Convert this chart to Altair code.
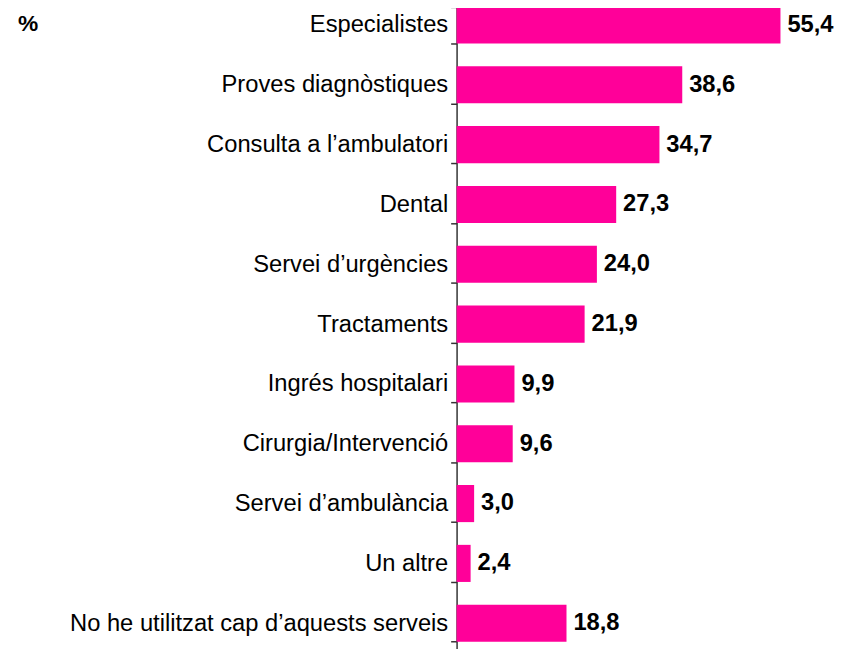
import altair as alt
import pandas as pd

categories = [
    "Especialistes",
    "Proves diagnòstiques",
    "Consulta a l’ambulatori",
    "Dental",
    "Servei d’urgències",
    "Tractaments",
    "Ingrés hospitalari",
    "Cirurgia/Intervenció",
    "Servei d’ambulància",
    "Un altre",
    "No he utilitzat cap d’aquests serveis",
]
values = [55.4, 38.6, 34.7, 27.3, 24.0, 21.9, 9.9, 9.6, 3.0, 2.4, 18.8]

df = pd.DataFrame({"cat": categories, "v": values})

FONT = "Liberation Sans"
PINK = "#FF0099"

y_enc = alt.Y(
    "cat:N",
    sort=categories,
    scale=alt.Scale(paddingInner=0.38, paddingOuter=0.19),
    axis=alt.Axis(
        title=None,
        labelFont=FONT,
        labelFontSize=24,
        labelColor="black",
        labelPadding=3,
        labelLimit=600,
        tickBand="extent",
        tickSize=6,
        tickColor="#333333",
        tickWidth=1.5,
        domainColor="#333333",
        domainWidth=1.5,
        grid=False,
    ),
)
x_enc = alt.X("v:Q", scale=alt.Scale(domain=[0, 60]), axis=None)

base = alt.Chart(df)

bars = base.mark_bar(color=PINK).encode(y=y_enc, x=x_enc)

labels = (
    base.transform_calculate(lbl="replace(format(datum.v, '.1f'), '.', ',')")
    .mark_text(align="left", baseline="middle", dx=7, font=FONT, fontSize=24,
               fontWeight="bold", color="black")
    .encode(y=alt.Y("cat:N", sort=categories), x="v:Q", text="lbl:N")
)

pct = alt.Chart(pd.DataFrame({"t": ["%"]})).mark_text(
    align="left", baseline="middle", font=FONT, fontSize=23, fontWeight="bold",
    color="black"
).encode(x=alt.value(-444), y=alt.value(29), text="t:N")

chart = (
    alt.layer(bars, labels, pct)
    .properties(
        width=355,
        height=666,
        autosize=alt.AutoSizeParams(type="none"),
        padding={"left": 454, "top": -17, "right": 30, "bottom": 0},
    )
    .configure_view(stroke=None)
)

chart.save("out.html", embed_options={"renderer": "svg", "actions": False})
